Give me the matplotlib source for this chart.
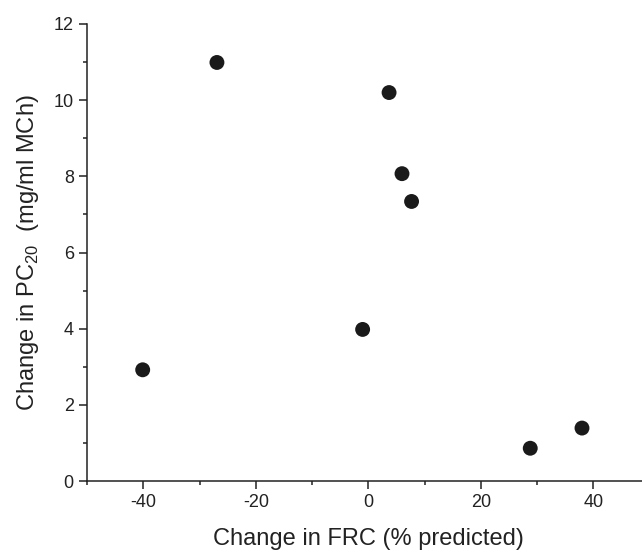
import matplotlib.pyplot as plt
from matplotlib.ticker import MultipleLocator

# change in FRC (% predicted) vs change in PC20
frc_change = [-40.1, -26.9, 3.7, 6.0, 7.7, -1.0, 28.8, 38.0]
pc20_change = [2.92, 10.99, 10.20, 8.07, 7.34, 3.98, 0.86, 1.39]

plt.rcParams['font.family'] = ['Liberation Sans', 'DejaVu Sans']
plt.rcParams['mathtext.fontset'] = 'custom'
plt.rcParams['mathtext.rm'] = 'Liberation Sans'
plt.rcParams['axes.unicode_minus'] = False

fig = plt.figure(figsize=(6.42, 5.52), dpi=100)
ax = fig.add_axes([87 / 642, 71 / 552, 562.5 / 642, 457 / 552])

ax.scatter(frc_change, pc20_change, s=115, color='#1a1a1a', edgecolors='none', zorder=3, clip_on=False)

ax.set_xlim(-50, 50)
ax.set_ylim(0, 12)
ax.xaxis.set_major_locator(MultipleLocator(20))
ax.xaxis.set_minor_locator(MultipleLocator(10))
ax.yaxis.set_major_locator(MultipleLocator(2))
ax.yaxis.set_minor_locator(MultipleLocator(1))

for side in ['top', 'right']:
    ax.spines[side].set_visible(False)
for side in ['left', 'bottom']:
    ax.spines[side].set_color('#222222')
    ax.spines[side].set_linewidth(1.1)

ax.tick_params(axis='both', which='major', direction='out', length=5.5, width=1.1,
               color='#222222', labelsize=13, labelcolor='#222222', pad=4)
ax.tick_params(axis='both', which='minor', direction='out', length=3.2, width=1.1, color='#222222')

ax.set_xlabel('Change in FRC (% predicted)', fontsize=17, color='#222222', labelpad=12)
ax.set_ylabel(r'Change in PC$_{\mathregular{20}}$  (mg/ml MCh)', fontsize=17, color='#222222', labelpad=9)

fig.savefig('out.png', dpi=100)
